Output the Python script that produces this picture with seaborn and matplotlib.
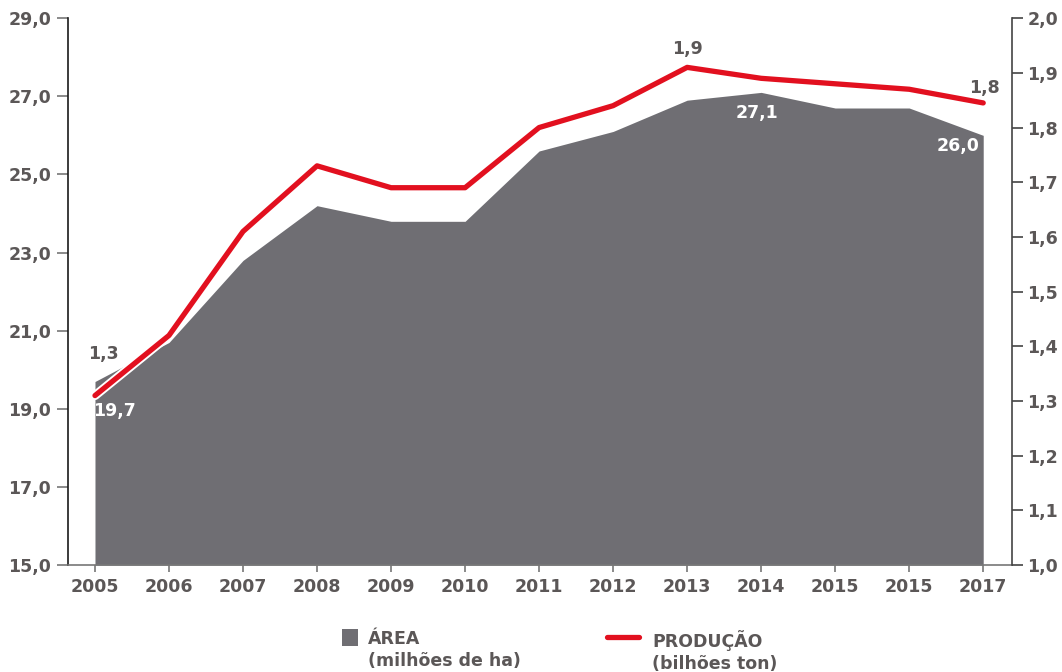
import matplotlib
matplotlib.use("Agg")
import matplotlib.pyplot as plt
import matplotlib.patheffects as pe
from matplotlib.patches import Rectangle
from matplotlib.lines import Line2D
import seaborn as sns
import pandas as pd

# Series
years = ["2005", "2006", "2007", "2008", "2009", "2010", "2011",
         "2012", "2013", "2014", "2015", "2015", "2017"]
area_mha = [19.7, 20.7, 22.8, 24.2, 23.8, 23.8, 25.6,
            26.1, 26.9, 27.1, 26.7, 26.7, 26.0]
producao_bt = [1.31, 1.42, 1.61, 1.73, 1.69, 1.69, 1.80,
               1.84, 1.91, 1.89, 1.88, 1.87, 1.845]
left_ticks = [15, 17, 19, 21, 23, 25, 27, 29]
right_ticks = [1.0, 1.1, 1.2, 1.3, 1.4, 1.5, 1.6, 1.7, 1.8, 1.9, 2.0]

GREY_TXT = "#5b5757"
AREA_C = "#6f6e73"
RED = "#e2101f"

sns.set_style("white")
plt.rcParams["font.family"] = ["DejaVu Sans"]
plt.rcParams["font.weight"] = "bold"

df = pd.DataFrame({"pos": range(len(years)), "area": area_mha, "prod": producao_bt})
XLIM = (-0.365, len(years) - 1 + 0.39)

fig = plt.figure(figsize=(10.62, 6.72), dpi=100)
ax = fig.add_axes([0.064, 0.159, 0.889, 0.814])
ax2 = ax.twinx()

# grey area (left axis)
ax.fill_between(df["pos"], 15, df["area"], color=AREA_C, lw=0, zorder=1)
ax.set_ylim(15, 29)
ax.set_xlim(*XLIM)

# red production line (right axis)
sns.lineplot(data=df, x="pos", y="prod", ax=ax2, color=RED, lw=3.8,
             solid_capstyle="round",
             path_effects=[pe.Stroke(linewidth=6.5, foreground="white"), pe.Normal()])
ax2.set_ylim(1.0, 2.0)
ax2.set_xlim(*XLIM)
ax2.set_ylabel("")
ax2.set_xlabel("")

def fmt(v):
    return f"{v:.1f}".replace(".", ",")

# axes styling
ax.set_yticks(left_ticks)
ax.set_yticklabels([fmt(v) for v in left_ticks])
ax2.set_yticks(right_ticks)
ax2.set_yticklabels([fmt(v) for v in right_ticks])
ax.set_xticks(range(len(years)))
ax.set_xticklabels(years)

for a in (ax, ax2):
    for s in a.spines.values():
        s.set_visible(False)
ax.spines["left"].set_visible(True)
ax.spines["left"].set_color("#1a1a1a")
ax.spines["left"].set_linewidth(1.2)
ax.spines["bottom"].set_visible(True)
ax.spines["bottom"].set_color("#777777")
ax.spines["bottom"].set_linewidth(1.2)
ax2.spines["right"].set_visible(True)
ax2.spines["right"].set_color("#444444")
ax2.spines["right"].set_linewidth(1.2)

ax.tick_params(axis="y", left=True, length=8, width=1.2, color="#777777",
               labelsize=12.5, labelcolor=GREY_TXT, pad=4)
ax.tick_params(axis="x", bottom=True, length=5, width=1.2, color="#777777",
               labelsize=12.5, labelcolor=GREY_TXT, pad=4)
ax2.tick_params(axis="y", right=True, length=8, width=1.2, color="#444444",
                labelsize=12.5, labelcolor=GREY_TXT, pad=3)
for lbl in ax.get_yticklabels() + ax.get_xticklabels() + ax2.get_yticklabels():
    lbl.set_fontweight("bold")
ax.grid(False)
ax2.grid(False)

# value annotations
txt = dict(fontsize=12.5, fontweight="bold", ha="center", va="center",
           textcoords="offset points")
ax2.annotate(fmt(producao_bt[0]), (0, producao_bt[0]), xytext=(6, 30), color=GREY_TXT, **txt)
ax.annotate(fmt(area_mha[0]), (0, area_mha[0]), xytext=(14, -21), color="white", **txt)
ax2.annotate(fmt(producao_bt[8]), (8, producao_bt[8]), xytext=(0, 13), color=GREY_TXT, **txt)
ax.annotate(fmt(area_mha[9]), (9, area_mha[9]), xytext=(-3, -15), color="white", **txt)
ax.annotate(fmt(area_mha[12]), (12, area_mha[12]), xytext=(-18, -8), color="white", **txt)
ax2.annotate(fmt(producao_bt[12]), (12, producao_bt[12]), xytext=(1, 11), color=GREY_TXT, **txt)

# legend
fig.add_artist(Rectangle((342 / 1062, 1 - 646 / 672), 16 / 1062, 17 / 672,
                         transform=fig.transFigure, color=AREA_C, lw=0))
fig.text(368 / 1062, 1 - 630 / 672, "ÁREA\n(milhões de ha)", ha="left", va="top",
         fontsize=12.5, fontweight="bold", color=GREY_TXT, linespacing=1.3)
fig.add_artist(Line2D([607 / 1062, 639 / 1062], [1 - 637 / 672, 1 - 637 / 672],
                      transform=fig.transFigure, color=RED, lw=3.8, solid_capstyle="round"))
fig.text(652 / 1062, 1 - 630 / 672, "PRODUÇÃO\n(bilhões ton)", ha="left", va="top",
         fontsize=12.5, fontweight="bold", color=GREY_TXT, linespacing=1.3)

fig.savefig("out.png", dpi=100, facecolor="white")
